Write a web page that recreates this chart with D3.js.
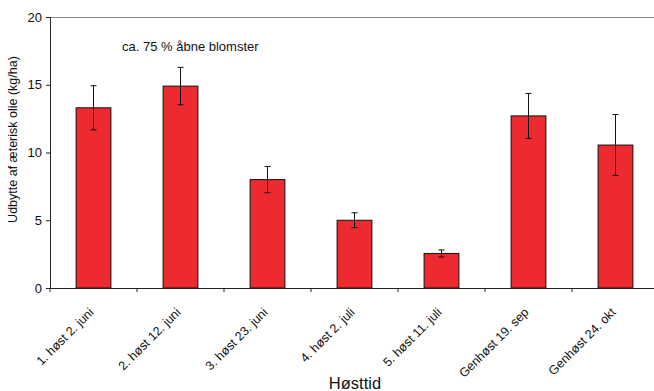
<!DOCTYPE html>
<html lang="da">
<head>
<meta charset="UTF-8">
<script src="https://d3js.org/d3.v7.min.js"></script>
<style>
  body { margin: 0; background: #fff; font-family: "Liberation Sans", Arial, sans-serif; }
  svg text { fill: #111; }
</style>
</head>
<body>
<svg id="chart" width="654" height="391"></svg>
<script>
const categories = ["1. høst 2. juni", "2. høst 12. juni", "3. høst 23. juni", "4. høst 2. juli",
  "5. høst 11. juli", "Genhøst 19. sep", "Genhøst 24. okt"];
const yields = [13.3, 14.9, 8.0, 5.0, 2.55, 12.7, 10.55];
const errors = [1.63, 1.38, 0.97, 0.55, 0.26, 1.66, 2.25];
const yTicks = [0, 5, 10, 15, 20];

const svg = d3.select("#chart");
const plotL = 50, plotR = 659, plotT = 17, plotB = 288;

const x = d3.scaleBand().domain(categories).range([plotL, plotR]).paddingInner(0).paddingOuter(0);
const y = d3.scaleLinear().domain([0, 20]).range([plotB, plotT]);
const barW = x.bandwidth() * 0.4;

// top frame line
svg.append("line")
  .attr("x1", plotL).attr("x2", 654).attr("y1", plotT + 0.5).attr("y2", plotT + 0.5)
  .attr("stroke", "#888").attr("stroke-width", 1);

// bars
svg.append("g").selectAll("rect").data(categories).join("rect")
  .attr("x", (d) => x(d) + (x.bandwidth() - barW) / 2)
  .attr("y", (d, i) => y(yields[i]))
  .attr("width", barW)
  .attr("height", (d, i) => plotB - y(yields[i]))
  .attr("fill", "#ec2a2f")
  .attr("stroke", "#111").attr("stroke-width", 1);

// error bars
const eb = svg.append("g").attr("stroke", "#111").attr("stroke-width", 1);
categories.forEach((c, i) => {
  const cx = x(c) + x.bandwidth() / 2;
  const hi = y(yields[i] + errors[i]), lo = y(yields[i] - errors[i]);
  eb.append("line").attr("x1", cx).attr("x2", cx).attr("y1", hi).attr("y2", lo);
  eb.append("line").attr("x1", cx - 3).attr("x2", cx + 3).attr("y1", hi).attr("y2", hi);
  eb.append("line").attr("x1", cx - 3).attr("x2", cx + 3).attr("y1", lo).attr("y2", lo);
});

// y axis
const yAxis = svg.append("g").attr("transform", `translate(${plotL},0)`)
  .call(d3.axisLeft(y).tickValues(yTicks).tickSize(4).tickPadding(4));
yAxis.select(".domain").attr("stroke", "#222");
yAxis.selectAll(".tick line").attr("stroke", "#222");
yAxis.selectAll("text").style("font-size", "13px").style("font-family", "Liberation Sans, Arial, sans-serif");

// x axis
const xAxis = svg.append("g").attr("transform", `translate(0,${plotB})`)
  .call(d3.axisBottom(x).tickSize(0).tickFormat(""));
xAxis.select(".domain").attr("stroke", "#222");
xAxis.selectAll(".tick").remove();
const xTickPos = categories.map((c) => x(c));
svg.append("g").selectAll("line").data(xTickPos).join("line")
  .attr("x1", (d) => d).attr("x2", (d) => d)
  .attr("y1", plotB).attr("y2", plotB + 4)
  .attr("stroke", "#222");

// x labels rotated
svg.append("g").selectAll("text").data(categories).join("text")
  .attr("transform", (d) => `translate(${x(d) + x.bandwidth() / 2 + 1},${plotB + 25}) rotate(-45)`)
  .attr("text-anchor", "end")
  .style("font-size", "12.5px")
  .text((d) => d);

// axis titles
svg.append("text")
  .attr("transform", `translate(17,${(plotT + plotB) / 2 - 13}) rotate(-90)`)
  .attr("text-anchor", "middle")
  .style("font-size", "12.5px")
  .text("Udbytte af æterisk olie (kg/ha)");

svg.append("text")
  .attr("x", 355).attr("y", 389)
  .attr("text-anchor", "middle")
  .style("font-size", "16.5px")
  .text("Høsttid");

svg.append("text")
  .attr("x", 122).attr("y", 51)
  .style("font-size", "13px")
  .text("ca. 75 % åbne blomster");
</script>
</body>
</html>
